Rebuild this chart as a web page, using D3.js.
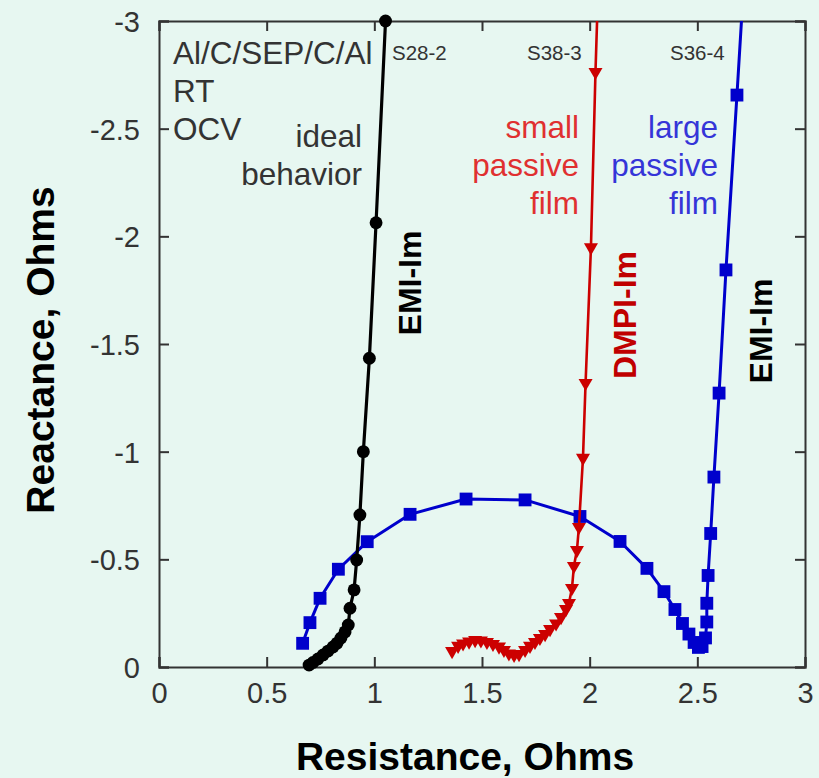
<!DOCTYPE html>
<html>
<head>
<meta charset="utf-8">
<script src="https://cdn.jsdelivr.net/npm/d3@7"></script>
<style>
  html, body { margin: 0; padding: 0; background: #e7f7f1; }
  svg { display: block; }
  text { font-family: "Liberation Sans", Arial, Helvetica, sans-serif; }
</style>
</head>
<body>
<svg id="chart" width="819" height="778"></svg>
<script>
// ---------- DATA ----------
const xTicks = [0, 0.5, 1, 1.5, 2, 2.5, 3];
const xTickLabels = ["0", "0.5", "1", "1.5", "2", "2.5", "3"];
const yTicks = [0, -0.5, -1, -1.5, -2, -2.5, -3];
const yTickLabels = ["0", "-0.5", "-1", "-1.5", "-2", "-2.5", "-3"];

// S28-2 (ideal behavior, EMI-Im) : [resistance, reactance]
const s28Res = [0.697, 0.715, 0.738, 0.762, 0.785, 0.808, 0.827, 0.845, 0.864, 0.879, 0.887, 0.906, 0.918, 0.933, 0.949, 0.977, 1.008, 1.052];
const s28Reac = [-0.009, -0.021, -0.037, -0.056, -0.074, -0.093, -0.111, -0.135, -0.163, -0.195, -0.273, -0.358, -0.497, -0.706, -1.000, -1.434, -2.063, -3.0];

// S38-3 (small passive film, DMPI-Im)
const s38Res = [1.361, 1.389, 1.412, 1.440, 1.468, 1.495, 1.523, 1.551, 1.579, 1.602, 1.625, 1.649, 1.672, 1.700, 1.723, 1.746, 1.769, 1.793, 1.816, 1.844, 1.867, 1.890, 1.904, 1.918, 1.927, 1.941, 1.950, 1.969, 1.981, 2.006, 2.027, 2.036];
const s38Reac = [-0.074, -0.098, -0.109, -0.118, -0.125, -0.123, -0.116, -0.107, -0.095, -0.079, -0.063, -0.056, -0.060, -0.079, -0.098, -0.116, -0.135, -0.153, -0.176, -0.202, -0.232, -0.269, -0.297, -0.367, -0.469, -0.543, -0.650, -0.971, -1.319, -1.949, -2.763, -3.05];

// S36-4 (large passive film, EMI-Im)
const s36Res = [0.667, 0.701, 0.748, 0.833, 0.967, 1.166, 1.426, 1.700, 1.955, 2.141, 2.266, 2.345, 2.396, 2.431, 2.461, 2.485, 2.505, 2.522, 2.538, 2.544, 2.544, 2.550, 2.562, 2.577, 2.601, 2.633, 2.684, 2.708];
const s36Reac = [-0.110, -0.206, -0.319, -0.454, -0.582, -0.709, -0.780, -0.776, -0.699, -0.583, -0.458, -0.350, -0.267, -0.202, -0.153, -0.114, -0.091, -0.095, -0.135, -0.209, -0.296, -0.425, -0.620, -0.882, -1.272, -1.844, -2.656, -3.05];

// ---------- LAYOUT ----------
const svg = d3.select("#chart");
const L = 159, R = 805, T = 21, B = 667;
const x = d3.scaleLinear().domain([0, 3]).range([L, R]);
const y = d3.scaleLinear().domain([0, -3]).range([B, T]);

svg.append("rect").attr("width", 819).attr("height", 778).attr("fill", "#e7f7f1");

svg.append("defs").append("clipPath").attr("id", "plotclip")
  .append("rect").attr("x", L).attr("y", T).attr("width", R - L).attr("height", B - T);

const axisColor = "#333";
const tickFont = 29;

const gB = svg.append("g").attr("transform", `translate(0,${B})`)
  .call(d3.axisBottom(x).tickValues(xTicks).tickSize(-10).tickPadding(15)
    .tickFormat((d, i) => xTickLabels[i]));
const gT = svg.append("g").attr("transform", `translate(0,${T})`)
  .call(d3.axisTop(x).tickValues(xTicks).tickSize(-10).tickFormat(""));
const gL = svg.append("g").attr("transform", `translate(${L},0)`)
  .call(d3.axisLeft(y).tickValues(yTicks).tickSize(-10).tickPadding(19)
    .tickFormat((d, i) => yTickLabels[i]));
const gR = svg.append("g").attr("transform", `translate(${R},0)`)
  .call(d3.axisRight(y).tickValues(yTicks).tickSize(-10).tickFormat(""));

[gB, gT, gL, gR].forEach(g => {
  g.select(".domain").attr("stroke", axisColor).attr("stroke-width", 2);
  g.selectAll(".tick line").attr("stroke", axisColor).attr("stroke-width", 2);
  g.selectAll(".tick text").attr("fill", "#333").attr("font-size", tickFont)
    .style("font-family", "'Liberation Sans', Arial, sans-serif");
});
gL.selectAll(".tick text").attr("dy", "0.36em");

// axis titles
svg.append("text").attr("x", 465).attr("y", 770)
  .attr("text-anchor", "middle").attr("font-size", 39).attr("font-weight", "bold")
  .attr("fill", "#000").text("Resistance, Ohms");
svg.append("text").attr("transform", "translate(54,350) rotate(-90)")
  .attr("text-anchor", "middle").attr("font-size", 39).attr("font-weight", "bold")
  .attr("fill", "#000").text("Reactance, Ohms");

// ---------- SERIES ----------
function series(resArr, reacArr, color, width, marker, size) {
  const pts = resArr.map((r, i) => [r, reacArr[i]]);
  const line = d3.line().x(d => x(d[0])).y(d => y(d[1]));
  svg.append("path").datum(pts).attr("clip-path", "url(#plotclip)")
    .attr("d", line).attr("fill", "none").attr("stroke", color)
    .attr("stroke-width", width).attr("stroke-linejoin", "round");
  const inside = pts.filter(d => d[1] >= -3.0001);
  const sym = d3.symbol().type(marker).size(size);
  svg.append("g").selectAll("path").data(inside).join("path")
    .attr("transform", d => `translate(${x(d[0])},${y(d[1])})` + (marker === d3.symbolTriangle ? " rotate(180)" : ""))
    .attr("d", sym).attr("fill", color);
}
series(s36Res, s36Reac, "#0000cc", 3, d3.symbolSquare, 165);
series(s28Res, s28Reac, "#000000", 3.2, d3.symbolCircle, 130);
series(s38Res, s38Reac, "#cc0000", 2.6, d3.symbolTriangle, 85);

// ---------- ANNOTATIONS ----------
function lines(arr, xr, y0, color, size, anchor) {
  arr.forEach((t, i) => {
    svg.append("text").attr("x", xr).attr("y", y0 + i * 38)
      .attr("text-anchor", anchor).attr("font-size", size).attr("fill", color).text(t);
  });
}
lines(["Al/C/SEP/C/Al", "RT", "OCV"], 173, 64, "#333", 31.5, "start");
lines(["ideal", "behavior"], 362, 147, "#333", 31.5, "end");
lines(["small", "passive", "film"], 579, 138, "#e03030", 31.5, "end");
lines(["large", "passive", "film"], 718, 138, "#3535d8", 31.5, "end");

svg.append("text").attr("x", 392).attr("y", 60).attr("font-size", 20.5).attr("fill", "#333").text("S28-2");
svg.append("text").attr("x", 527).attr("y", 60).attr("font-size", 20.5).attr("fill", "#333").text("S38-3");
svg.append("text").attr("x", 670).attr("y", 60).attr("font-size", 20.5).attr("fill", "#333").text("S36-4");

function vlabel(t, bx, cy, color) {
  svg.append("text").attr("transform", `translate(${bx},${cy}) rotate(-90)`)
    .attr("text-anchor", "middle").attr("font-size", 32).attr("font-weight", "bold")
    .attr("fill", color).text(t);
}
vlabel("EMI-Im", 421, 283, "#000");
vlabel("DMPI-Im", 636, 315, "#c00000");
vlabel("EMI-Im", 772, 331, "#000");
</script>
</body>
</html>
